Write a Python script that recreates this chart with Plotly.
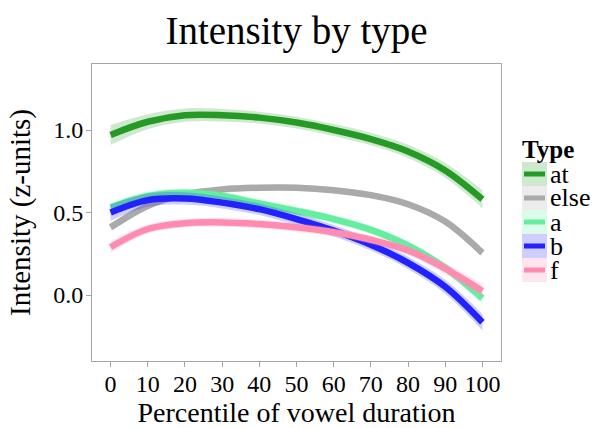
import plotly.graph_objects as go

# Smoothed intensity curves by vowel type, sampled every 10th percentile
percentile = [0, 10, 20, 30, 40, 50, 60, 70, 80, 90, 100]

types = ["at", "else", "a", "b", "f"]

at_fit = [0.97, 1.05, 1.09, 1.09, 1.075, 1.045, 1.00, 0.945, 0.87, 0.755, 0.58]
else_fit = [0.41, 0.54, 0.61, 0.64, 0.65, 0.65, 0.635, 0.605, 0.55, 0.445, 0.255]
a_fit = [0.53, 0.60, 0.62, 0.60, 0.555, 0.51, 0.46, 0.395, 0.30, 0.165, -0.02]
b_fit = [0.50, 0.575, 0.585, 0.56, 0.52, 0.46, 0.39, 0.305, 0.195, 0.05, -0.165]
f_fit = [0.29, 0.40, 0.435, 0.44, 0.43, 0.41, 0.38, 0.335, 0.27, 0.16, 0.025]

# Half-widths of the confidence bands
at_se = [0.06, 0.045, 0.04, 0.038, 0.036, 0.036, 0.036, 0.038, 0.04, 0.045, 0.055]
else_se = [0.025, 0.02, 0.018, 0.018, 0.018, 0.018, 0.018, 0.018, 0.018, 0.02, 0.025]
a_se = [0.035, 0.028, 0.026, 0.026, 0.026, 0.026, 0.026, 0.026, 0.026, 0.028, 0.035]
b_se = [0.05, 0.04, 0.037, 0.035, 0.035, 0.035, 0.035, 0.035, 0.037, 0.042, 0.05]
f_se = [0.035, 0.028, 0.026, 0.026, 0.026, 0.026, 0.026, 0.026, 0.028, 0.032, 0.04]

fits = [at_fit, else_fit, a_fit, b_fit, f_fit]
ses = [at_se, else_se, a_se, b_se, f_se]
line_colors = ["#259a25", "#aaaaaa", "#66eea0", "#2222ff", "#ff8cb0"]
band_colors = ["rgba(37,154,37,0.22)", "rgba(170,170,170,0.22)",
               "rgba(102,238,160,0.22)", "rgba(34,34,255,0.22)",
               "rgba(255,140,176,0.22)"]

FONT = "Liberation Serif"
fig = go.Figure()

for name, fit, se, lc, bc in zip(types, fits, ses, line_colors, band_colors):
    lower = [v - s for v, s in zip(fit, se)]
    upper = [v + s for v, s in zip(fit, se)]
    fig.add_trace(go.Scatter(x=percentile, y=lower, mode="lines",
                             line=dict(width=0, shape="spline", smoothing=1.0),
                             hoverinfo="skip", showlegend=False))
    fig.add_trace(go.Scatter(x=percentile, y=upper, mode="lines", fill="tonexty",
                             fillcolor=bc,
                             line=dict(width=0, shape="spline", smoothing=1.0),
                             hoverinfo="skip", showlegend=False))
    fig.add_trace(go.Scatter(x=percentile, y=fit, mode="lines", name=name,
                             line=dict(color=lc, width=6.5, shape="spline", smoothing=1.0),
                             showlegend=False))

# Legend drawn as keyed boxes to the right of the panel
plot_l, plot_r, plot_t, plot_b = 92, 501, 64, 361
pw, ph = plot_r - plot_l, plot_b - plot_t


def px_x(x):
    return (x - plot_l) / pw


def px_y(y):
    return (plot_b - y) / ph


key_x0, key_x1 = 522, 547
key_top, key_h = 162, 24
shapes = []
annotations = []
annotations.append(dict(text="<b>Type</b>", xref="paper", yref="paper",
                        x=px_x(520), y=px_y(149), xanchor="left", yanchor="middle",
                        showarrow=False, font=dict(family=FONT, size=25, color="black")))
for i, (name, lc, bc) in enumerate(zip(types, line_colors, band_colors)):
    y0 = key_top + i * key_h
    y1 = y0 + key_h
    shapes.append(dict(type="rect", xref="paper", yref="paper",
                       x0=px_x(key_x0), x1=px_x(key_x1), y0=px_y(y1), y1=px_y(y0),
                       fillcolor=bc, line=dict(width=0)))
    shapes.append(dict(type="line", xref="paper", yref="paper",
                       x0=px_x(key_x0 + 2), x1=px_x(key_x1 - 2),
                       y0=px_y((y0 + y1) / 2), y1=px_y((y0 + y1) / 2),
                       line=dict(color=lc, width=5)))
    annotations.append(dict(text=name, xref="paper", yref="paper",
                            x=px_x(548), y=px_y((y0 + y1) / 2), xanchor="left",
                            yanchor="middle", showarrow=False,
                            font=dict(family=FONT, size=26, color="black")))

axis_common = dict(showgrid=False, zeroline=False, showline=True, mirror=True,
                   linecolor="#a6a6a6", linewidth=1, ticks="outside", ticklen=5,
                   tickcolor="#a6a6a6", tickwidth=1, automargin=False,
                   tickfont=dict(family=FONT, size=24, color="black"))

fig.update_layout(
    width=603, height=428,
    margin=dict(l=plot_l, r=603 - plot_r, t=plot_t, b=428 - plot_b),
    paper_bgcolor="white", plot_bgcolor="white",
    title=dict(text="Intensity by type", x=px_x(296.5), xref="paper", xanchor="center",
               y=1 - 30 / 428, yref="container", yanchor="middle",
               font=dict(family=FONT, size=39, color="black")),
    xaxis=dict(range=[-5, 105], tickvals=percentile, ticklabelstandoff=-4,
               title=dict(text="Percentile of vowel duration", standoff=6,
                          font=dict(family=FONT, size=28, color="black")),
               **axis_common),
    yaxis=dict(range=[-0.4, 1.4], tickvals=[0.0, 0.5, 1.0], ticktext=["0.0", "0.5", "1.0"],
               ticklabelstandoff=-2,
               title=dict(text="Intensity (z-units)", standoff=14,
                          font=dict(family=FONT, size=29, color="black")),
               **axis_common),
    shapes=shapes,
    annotations=annotations,
)

fig.write_html("out.html")
